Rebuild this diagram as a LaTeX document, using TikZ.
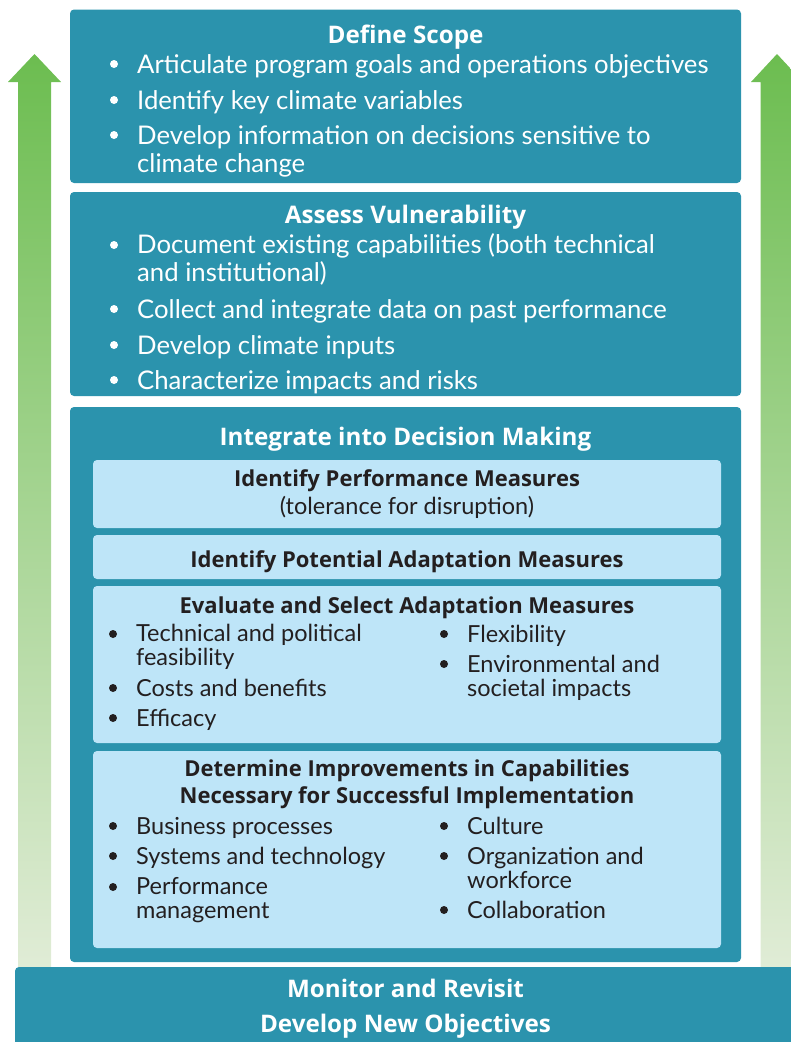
\documentclass[tikz,border=0pt]{standalone}
\usepackage{fontspec}
\setmainfont{Lato}
\newfontfamily\headfont{Open Sans}

\definecolor{boxteal}{RGB}{43,147,173}
\definecolor{paleblue}{RGB}{190,229,248}
\definecolor{inkdark}{RGB}{35,31,32}
\definecolor{arrowtop}{RGB}{108,189,80}
\definecolor{arrowbot}{RGB}{224,236,214}

\tikzset{
  outerbox/.style={fill=boxteal, rounded corners=4pt},
  innerbox/.style={fill=paleblue, rounded corners=4pt},
  uparrow/.style={top color=arrowtop, bottom color=arrowbot},
  headw/.style={text=white, font=\headfont\bfseries\fontsize{24.2}{35}\selectfont, align=center, inner sep=0pt, anchor=base},
  headd/.style={text=inkdark, font=\headfont\bfseries\fontsize{22}{26.6}\selectfont, align=center, inner sep=0pt, anchor=base},
  itemw/.style={text=white, font=\fontsize{25.7}{28}\selectfont, align=left, inner sep=0pt, anchor=base west},
  itemd/.style={text=inkdark, font=\fontsize{23.5}{24}\selectfont, align=left, inner sep=0pt, anchor=base west},
}

\begin{document}
\begin{tikzpicture}[x=1pt, y=-1pt]
\useasboundingbox (0,0) rectangle (791,1042);
\clip (0,0) rectangle (791,1042);

% green arrows on both sides
\shade[uparrow] (34.5,54)--(61,82)--(51,82)--(51,967)--(18,967)--(18,82)--(8,82)--cycle;
\shade[uparrow] (777,54)--(803,82)--(793.5,82)--(793.5,967)--(760.5,967)--(760.5,82)--(751,82)--cycle;

% define scope
\fill[outerbox] (70,9.5) rectangle (741,183);
\node[headw] (scope) at (405.5,43) {Define Scope};
\fill[white] (114,64) circle [radius=4];
\node[itemw] (scopeA) at (137,73) {Articulate program goals and operations objectives};
\fill[white] (114,100) circle [radius=4];
\node[itemw] (scopeB) at (137,109) {Identify key climate variables};
\fill[white] (114,135) circle [radius=4];
% multi-line nodes sit on their last line
\node[itemw] (scopeC) at (137,172) {Develop information on decisions sensitive to\\climate change};

% assess vulnerability
\fill[outerbox] (70,192) rectangle (741,396);
\node[headw] (vuln) at (405.5,223) {Assess Vulnerability};
\fill[white] (114,245) circle [radius=4];
\node[itemw] (vulnA) at (137,281) {Document existing capabilities (both technical\\and institutional)};
\fill[white] (114,309) circle [radius=4];
\node[itemw] (vulnB) at (137,318) {Collect and integrate data on past performance};
\fill[white] (114,345) circle [radius=4];
\node[itemw] (vulnC) at (137,354) {Develop climate inputs};
\fill[white] (114,380) circle [radius=4];
\node[itemw] (vulnD) at (137,389) {Characterize impacts and risks};

% integrate into decision making
\fill[outerbox] (70,407) rectangle (741,962);
\node[headw] (integ) at (405.5,445) {Integrate into Decision Making};

\fill[innerbox] (93,460) rectangle (721,528);
\node[headd] (perf) at (407,486) {Identify Performance Measures};
\node[itemd, anchor=base] (perfsub) at (407,514) {(tolerance for disruption)};

\fill[innerbox] (93,535) rectangle (721,579);
\node[headd] (potent) at (407,567) {Identify Potential Adaptation Measures};

\fill[innerbox] (93,586) rectangle (721,743);
\node[headd] (evalu) at (407,613) {Evaluate and Select Adaptation Measures};
\fill[inkdark] (113,634) circle [radius=4];
\node[itemd] (evalA) at (136,665) {Technical and political\\feasibility};
\fill[inkdark] (113,688) circle [radius=4];
\node[itemd] (evalB) at (136,696) {Costs and benefits};
\fill[inkdark] (113,718) circle [radius=4];
\node[itemd] (evalC) at (136,726) {Efficacy};
\fill[inkdark] (444,634) circle [radius=4];
\node[itemd] (evalD) at (467,642) {Flexibility};
\fill[inkdark] (444,664) circle [radius=4];
\node[itemd] (evalE) at (467,696) {Environmental and\\societal impacts};

\fill[innerbox] (93,751) rectangle (721,948);
\node[headd] (improv) at (407,803) {Determine Improvements in Capabilities\\Necessary for Successful Implementation};
\fill[inkdark] (113,826) circle [radius=4];
\node[itemd] (improvA) at (136,834) {Business processes};
\fill[inkdark] (113,856) circle [radius=4];
\node[itemd] (improvB) at (136,864) {Systems and technology};
\fill[inkdark] (113,887) circle [radius=4];
\node[itemd] (improvC) at (136,918) {Performance\\management};
\fill[inkdark] (444,826) circle [radius=4];
\node[itemd] (improvD) at (467,834) {Culture};
\fill[inkdark] (444,856) circle [radius=4];
\node[itemd] (improvE) at (467,888) {Organization and\\workforce};
\fill[inkdark] (444,910) circle [radius=4];
\node[itemd] (improvF) at (467,918) {Collaboration};

% monitor and revisit
\fill[boxteal] (15,1060) [rounded corners=4pt] -- (15,967) [sharp corners] -- (800,967) -- (800,1060) -- cycle;
\node[headw] (monit) at (405.5,1032) {Monitor and Revisit\\Develop New Objectives};
\end{tikzpicture}
\end{document}
